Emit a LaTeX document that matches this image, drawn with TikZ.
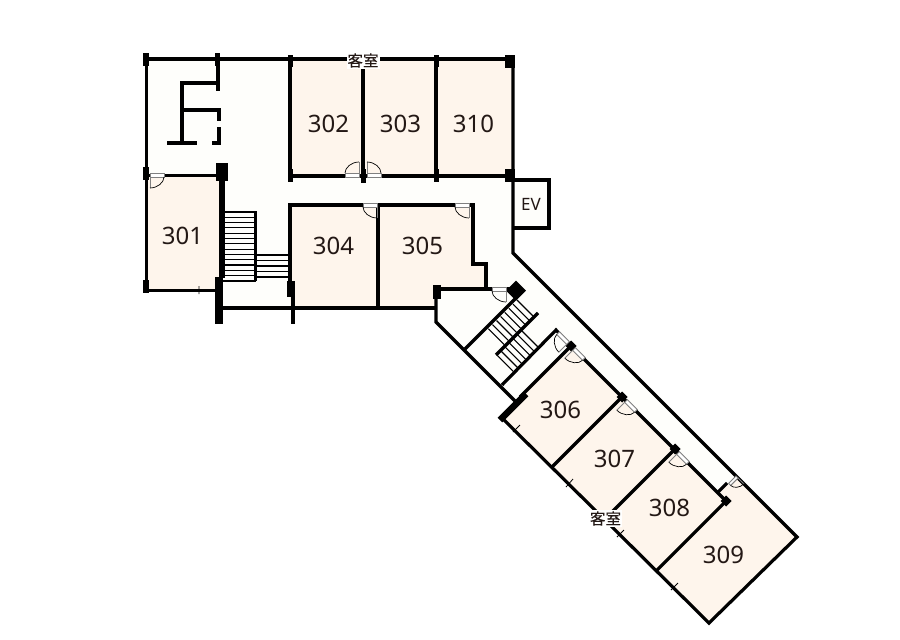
\documentclass[tikz,border=0pt]{standalone}
\usepackage{fontspec}
\setmainfont{Noto Sans}
\newfontfamily\cjk[FakeBold=0.5]{Noto Sans CJK JP}
\definecolor{roomfill}{HTML}{FEF5EC}
\definecolor{hallfill}{HTML}{FEFEFB}
\definecolor{inktext}{HTML}{231815}
\tikzset{
  door/.pic={
    \draw[draw=gray,line width=.9pt,fill=white] (-14,-2) rectangle (0,2);
    \draw[gray,line width=1pt] (0,2)--(0,13);
    \draw[black,line width=.7pt] (0,13) .. controls (-7.5,13) and (-14,7.5) .. (-14,2);
  }
}
\begin{document}
\begin{tikzpicture}[x=1pt,y=-1pt,
  wall/.style={line width=3.2pt},
  sidewall/.style={line width=3pt},
  thinline/.style={line width=1.1pt},
  room/.style={fill=roomfill,draw=none},
  roomnum/.style={font=\fontsize{24}{26}\selectfont,text=inktext,inner sep=0pt},
  wing/.style={font=\cjk\fontsize{15.5}{16}\selectfont,text=inktext,fill=white,inner sep=1pt}]
\useasboundingbox (0,0) rectangle (900,640);
% floors
\fill[hallfill] (146,59)--(513,59)--(513,253)--(797,537)--(709,623)--(503,419)--(515,401)--(436,322)--(436,308)--(219,308)--(219,291)--(146,291)--cycle;
\fill[hallfill] (513,180) rectangle (549,228);
\fill[room] (146,176) rectangle (219,291);
\fill[room] (290,59) rectangle (513,176);
\fill[room] (290,205) rectangle (378,308);
\fill[room] (378,205)--(473,205)--(473,264)--(486,264)--(486,289)--(437,289)--(437,308)--(378,308)--cycle;
\fill[room] (571,346)--(500,417)--(656,571)--(726,501)--cycle;
\fill[room] (726,501)--(718,491)--(737,477)--(797,537)--(709,623)--(656,571)--cycle;
% outer and room walls
\draw[wall] (146,59)--(510,59);
\draw[sidewall] (146,59)--(146,290.5)--(218,290.5);
\draw[wall] (513,59)--(513,253)--(797,537)--(709,623)--(503,419);
\draw[wall] (513,180)--(549,180)--(549,228)--(513,228);
\draw[sidewall] (146,175.5)--(222,175.5);
\draw[wall] (290,59)--(290,176)--(513,176);
\draw[wall] (363,59)--(363,176);
\draw[wall] (436,59)--(436,176);
\draw[wall] (293,308)--(219,308);
\draw[wall] (293,308)--(436,308);
\draw[wall] (290,281)--(290,205)--(473,205)--(473,264)--(486,264)--(486,289);
\draw[wall] (378,205)--(378,308);
\draw[wall] (437,289)--(510,289);
\draw[wall] (436,292)--(436,322)--(515,401);
\draw[line width=4pt] (293,297)--(293,324);
% lift shaft block
\draw[wall] (218,59)--(218,91);
\draw[wall] (219,83)--(182,83)--(182,142);
\draw[wall] (167,143)--(197,143);
\draw[wall] (182,110)--(219,110)--(219,121);
\draw[wall] (219,127)--(219,143)--(212,143);
% left stair
\foreach \y in {212,217.3,...,281}
  \draw[thinline] (225,\y)--(255,\y);
\foreach \y in {255,260.5,...,278}
  \draw[thinline] (256,\y)--(290,\y);
\draw[line width=2.8pt] (255.5,211)--(255.5,281);
\draw[line width=1.8pt] (223,281)--(256,281);
% diagonal stair
\foreach \i in {0,...,7}
  \draw[thinline] ({517-4.1*\i},{300+4.1*\i})--({533-4.1*\i},{316+4.1*\i});
\foreach \i in {0,...,6}
  \draw[thinline] ({521-4.1*\i},{330+4.1*\i})--({538-4.1*\i},{347+4.1*\i});
\draw[wall] (465,349)--(516,298);
\draw[wall] (496,355)--(538,313);
\draw[wall] (502,385)--(556,330)--(571,346);
% diagonal rooms
\draw[wall] (571,346)--(726,501);
\draw[wall] (571,346)--(520,397);
\draw[wall] (622,397)--(552,467);
\draw[wall] (675,449)--(604.5,519.5);
\draw[wall] (726,501)--(656,571);
\draw[wall] (717,493)--(727,483);
\draw[line width=6.5pt] (500,420)--(526,394);
% ticks
\draw[line width=.8pt] (199,286)--(199,294) (513,432)--(520,425) (566,487)--(573,479) (617,537)--(624,530) (671,590)--(678,583);
% pillars
\foreach \xa/\ya/\xb/\yb in {143/53/149/66, 215/53/220/66, 288/55/293/67, 288/169/293/182, 361/169/366/183,
  434/55/439/67, 434/169/439/182, 505/55/515/68, 505/169/515/182, 143/167/149/180, 143/280/149/293,
  216/163/228/181, 219/181/225/278, 215/277/223/324, 287/281/295/297, 433/285/441/299}
  \fill (\xa,\ya) rectangle (\xb,\yb);
\fill (516,280.7)--(526,290.7)--(516,300.7)--(506,290.7)--cycle;
\foreach \px/\py in {571/346, 622/397, 675/449, 726/501}
  \fill (\px-5.5,\py)--(\px,\py-5.5)--(\px+5.5,\py)--(\px,\py+5.5)--cycle;
% doors
\pic at (377,205) {door};
\pic at (469,205) {door};
\pic at (506,289) {door};
\pic[xscale=-1] at (150,175) {door};
\pic[yscale=-1] at (359,175) {door};
\pic[xscale=-1,yscale=-1] at (367,175) {door};
\pic[rotate=-45] at (568,343) {door};
\pic[rotate=-45,xscale=-1] at (574,349) {door};
\pic[rotate=-45,xscale=-1] at (626,401) {door};
\pic[rotate=-45,xscale=-1] at (678,453) {door};
\pic[rotate=45,scale=.75] at (737,477) {door};
% labels
\foreach \num/\px/\py in {301/182.5/235.5, 302/328.5/123.5, 303/400.5/123.5, 310/473.5/123.5, 304/333.5/245.5, 305/422.5/245.5,
  306/560.5/409.5, 307/614.5/458.5, 308/669.5/507.5, 309/723.5/554.5}
  \node[roomnum] (r\num) at (\px,\py) {\num};
\node[font=\fontsize{17}{18}\selectfont,text=inktext,inner sep=0pt] (lift) at (531,204) {EV};
\node[wing] (winga) at (363,60.5) {客室};
\node[wing] (wingb) at (605.5,518.5) {客室};
\end{tikzpicture}
\end{document}
